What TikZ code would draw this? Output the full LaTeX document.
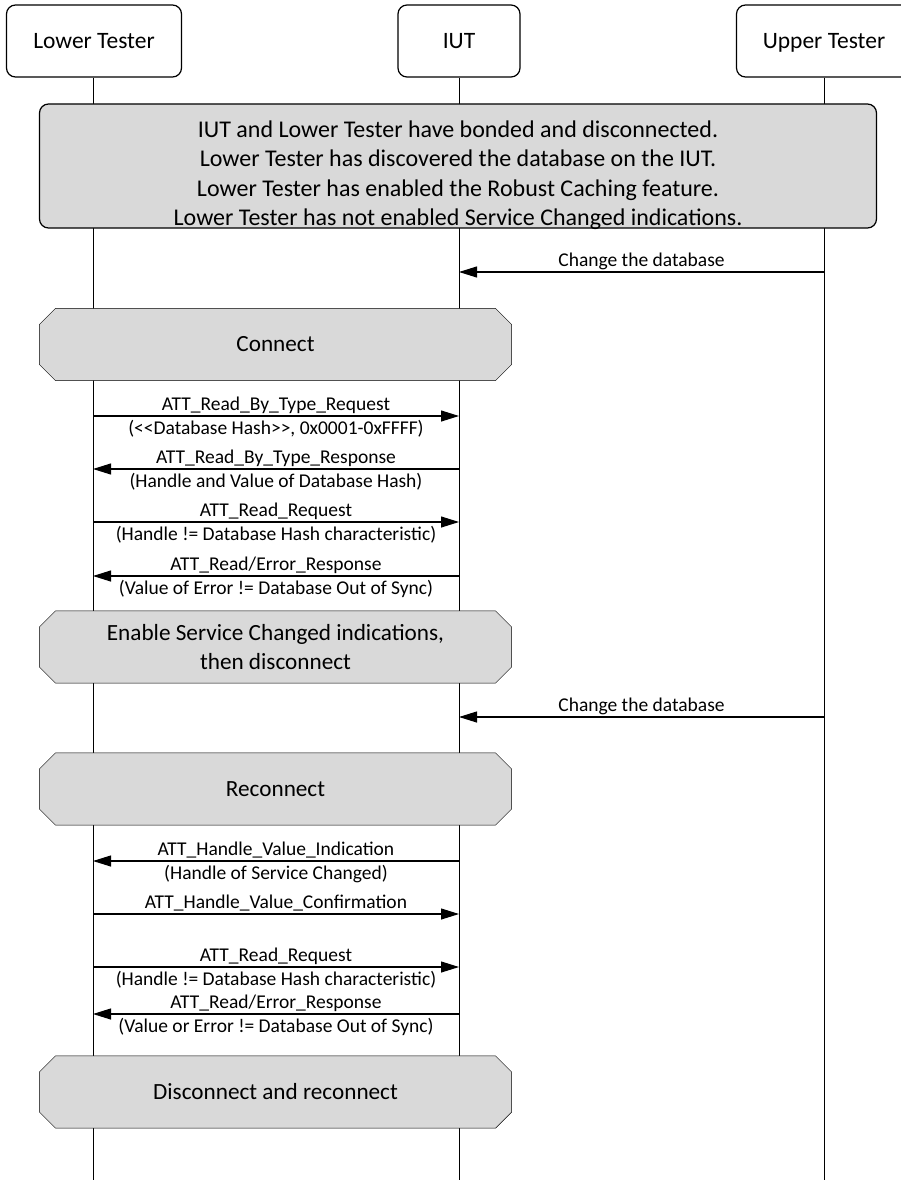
\documentclass[tikz,border=0pt]{standalone}
\usepackage{fontspec}
\setmainfont{Carlito}
\usetikzlibrary{arrows.meta,backgrounds}

\definecolor{boxgray}{HTML}{D9D9D9}
\newcommand{\dlt}{<\kern0pt<}
\newcommand{\dgt}{>\kern0pt>}

\begin{document}
\begin{tikzpicture}[x=1pt,y=-1pt,line width=1.2pt,
    actor/.style={draw,fill=white,rounded corners=9pt,minimum height=72pt,text height=16pt,text depth=1.5pt,
                  font=\fontsize{23.5}{28}\selectfont},
    phase/.style={minimum width=471pt,minimum height=71pt,inner sep=0pt,align=center,
                  font=\fontsize{23.2}{29.3}\selectfont},
    msg/.style={-{Triangle[length=18pt,width=11pt]},line width=1.1pt},
    lbl/.style={font=\fontsize{19.5}{22}\selectfont,inner sep=0pt,anchor=base},
    over/.style={lbl,yshift=5.5pt},
    under/.style={lbl,yshift=-18pt}]
  \useasboundingbox (0,0) rectangle (900,1180);

  % actors and lifelines
  \node[actor,minimum width=175pt] (lt) at (94,41) {Lower Tester};
  \node[actor,minimum width=122pt] (iut) at (459,41) {IUT};
  \node[actor,minimum width=175pt] (ut) at (824,41) {Upper Tester};
  \coordinate (ltend) at (93,1180);
  \coordinate (iutend) at (459,1180);
  \coordinate (utend) at (824,1180);
  \begin{scope}[on background layer]
    \draw (lt.south -| ltend) -- (ltend);
    \draw (iut.south) -- (iutend);
    \draw (ut.south) -- (utend);
  \end{scope}

  % preconditions
  \node[draw,fill=boxgray,rounded corners=9pt,minimum width=837pt,inner ysep=0pt,
        text height=121.5pt,text depth=2.5pt,align=center,
        font=\fontsize{24}{29.3}\selectfont] (pre) at (458,166)
    {IUT and Lower Tester have bonded and disconnected.\\
     Lower Tester has discovered the database on the IUT.\\
     Lower Tester has enabled the Robust Caching feature.\\
     Lower Tester has not enabled Service Changed indications.};

  % points on the lifelines
  \coordinate (u1) at (824,272);   \coordinate (i0) at (459,272);
  \coordinate (l1) at (93,416);    \coordinate (i1) at (459,416);
  \coordinate (l2) at (93,469);    \coordinate (i2) at (459,469);
  \coordinate (l3) at (93,522);    \coordinate (i3) at (459,522);
  \coordinate (l4) at (93,576);    \coordinate (i4) at (459,576);
  \coordinate (u5) at (824,717);   \coordinate (i5) at (459,717);
  \coordinate (l6) at (93,861);    \coordinate (i6) at (459,861);
  \coordinate (l7) at (93,914);    \coordinate (i7) at (459,914);
  \coordinate (l8) at (93,967);    \coordinate (i8) at (459,967);
  \coordinate (l9) at (93,1014);   \coordinate (i9) at (459,1014);

  % phases
  \node[phase] (conn) at (275.5,344.5) {Connect};
  \node[phase] (enable) at (275.5,647) {Enable Service Changed indications,\\then disconnect};
  \node[phase] (reconn) at (275.5,789) {Reconnect};
  \node[phase] (again) at (275.5,1092) {Disconnect and reconnect};
  \begin{scope}[on background layer]
    \foreach \p in {conn,enable,reconn,again}
      \draw[fill=boxgray] ([xshift=16pt]\p.north west) -- ([xshift=-16pt]\p.north east)
        -- ([yshift=-16pt]\p.north east) -- ([yshift=16pt]\p.south east)
        -- ([xshift=-16pt]\p.south east) -- ([xshift=16pt]\p.south west)
        -- ([yshift=16pt]\p.south west) -- ([yshift=-16pt]\p.north west) -- cycle;
  \end{scope}

  % messages
  \draw[msg] (u1) -- node[over] {Change the database} (i0);

  \draw[msg] (l1) -- node[over] {ATT\_Read\_By\_Type\_Request}
                     node[under] {(\dlt Database Hash\dgt, 0x0001-0xFFFF)} (i1);
  \draw[msg] (i2) -- node[over] {ATT\_Read\_By\_Type\_Response}
                     node[under] {(Handle and Value of Database Hash)} (l2);
  \draw[msg] (l3) -- node[over] {ATT\_Read\_Request}
                     node[under] {(Handle != Database Hash characteristic)} (i3);
  \draw[msg] (i4) -- node[over] {ATT\_Read/Error\_Response}
                     node[under] {(Value of Error != Database Out of Sync)} (l4);

  \draw[msg] (u5) -- node[over] {Change the database} (i5);

  \draw[msg] (i6) -- node[over] {ATT\_Handle\_Value\_Indication}
                     node[under] {(Handle of Service Changed)} (l6);
  \draw[msg] (l7) -- node[over] {ATT\_Handle\_Value\_Confirmation} (i7);
  \draw[msg] (l8) -- node[over] {ATT\_Read\_Request}
                     node[under] {(Handle != Database Hash characteristic)} (i8);
  \draw[msg] (i9) -- node[over] {ATT\_Read/Error\_Response}
                     node[under] {(Value or Error != Database Out of Sync)} (l9);
\end{tikzpicture}
\end{document}
